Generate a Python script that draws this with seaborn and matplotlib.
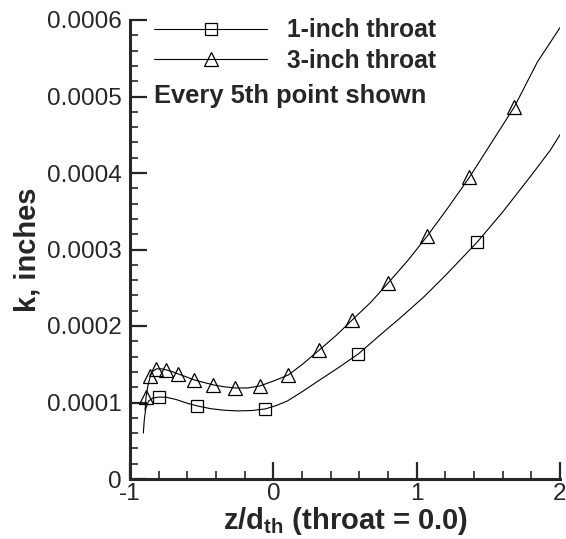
import matplotlib
matplotlib.use("Agg")
import matplotlib.pyplot as plt
import seaborn as sns
import numpy as np
from matplotlib.lines import Line2D
from matplotlib.ticker import MultipleLocator

# ---- data (k in units of 1e-4 inches) ----
x_1in = [-0.907, -0.90, -0.89, -0.87, -0.84, -0.80, -0.75, -0.68, -0.60, -0.53,
         -0.44, -0.35, -0.25, -0.15, -0.056, 0.02, 0.098, 0.20, 0.32, 0.45,
         0.593, 0.75, 0.90, 1.05, 1.20, 1.424, 1.60, 1.80, 1.933, 2.0]
k_1in = [0.60, 0.78, 0.92, 1.02, 1.06, 1.07, 1.07, 1.04, 0.99, 0.955,
         0.92, 0.90, 0.89, 0.895, 0.916, 0.96, 1.02, 1.14, 1.29, 1.45,
         1.635, 1.89, 2.13, 2.38, 2.66, 3.10, 3.49, 3.97, 4.30, 4.50]
x_1in_mk = [-0.80, -0.53, -0.056, 0.593, 1.424]
k_1in_mk = [1.07, 0.955, 0.916, 1.635, 3.10]

x_3in = [-0.895, -0.888, -0.875, -0.858, -0.84, -0.816, -0.78, -0.747, -0.70, -0.663,
         -0.60, -0.551, -0.48, -0.419, -0.34, -0.265, -0.18, -0.094, 0.0, 0.105,
         0.21, 0.321, 0.44, 0.551, 0.68, 0.802, 0.94, 1.075, 1.22, 1.368,
         1.52, 1.682, 1.842, 2.0]
k_3in = [0.90, 1.07, 1.22, 1.347, 1.41, 1.439, 1.44, 1.426, 1.40, 1.373,
         1.33, 1.295, 1.26, 1.230, 1.205, 1.190, 1.19, 1.216, 1.28, 1.360,
         1.51, 1.687, 1.88, 2.080, 2.31, 2.564, 2.86, 3.179, 3.55, 3.944,
         4.39, 4.866, 5.45, 5.90]
x_3in_mk = [-0.888, -0.858, -0.816, -0.747, -0.663, -0.551, -0.419, -0.265, -0.094,
            0.105, 0.321, 0.551, 0.802, 1.075, 1.368, 1.682]
k_3in_mk = [1.07, 1.347, 1.439, 1.426, 1.373, 1.295, 1.230, 1.190, 1.216,
            1.360, 1.687, 2.080, 2.564, 3.179, 3.944, 4.866]

series_labels = ["1-inch throat", "3-inch throat"]
xticks = [-1, 0, 1, 2]
xtick_labels = ["-1", "0", "1", "2"]
yticks = [0, 0.0001, 0.0002, 0.0003, 0.0004, 0.0005, 0.0006]
ytick_labels = ["0", "0.0001", "0.0002", "0.0003", "0.0004", "0.0005", "0.0006"]
note = "Every 5th point shown"
SCALE = 1e-4

sns.set_style("ticks")
plt.rcParams["font.family"] = ["Liberation Sans", "DejaVu Sans"]
plt.rcParams["mathtext.fontset"] = "custom"
plt.rcParams["mathtext.rm"] = "Liberation Sans:bold"
plt.rcParams["mathtext.bf"] = "Liberation Sans:bold"
plt.rcParams["mathtext.it"] = "Liberation Sans:bold"

fig = plt.figure(figsize=(5.66, 5.39), dpi=100)
ax = fig.add_axes([130/566, 1-479/539, 430/566, 459/539])

lw = 0.8
sns.lineplot(x=x_1in, y=np.array(k_1in)*SCALE, sort=False, estimator=None,
             color="black", lw=lw, ax=ax)
sns.lineplot(x=x_3in, y=np.array(k_3in)*SCALE, sort=False, estimator=None,
             color="black", lw=lw, ax=ax)
sns.lineplot(x=x_1in_mk, y=np.array(k_1in_mk)*SCALE, sort=False, estimator=None,
             linestyle="", marker="s", markersize=9, markerfacecolor="none",
             markeredgecolor="black", markeredgewidth=0.9, ax=ax)
sns.lineplot(x=x_3in_mk, y=np.array(k_3in_mk)*SCALE, sort=False, estimator=None,
             linestyle="", marker="^", markersize=10.5, markerfacecolor="none",
             markeredgecolor="black", markeredgewidth=0.9, ax=ax)

ax.set_xlim(-1, 2)
ax.set_ylim(0, 0.0006)
ax.set_xticks(xticks)
ax.set_xticklabels(xtick_labels)
ax.set_yticks(yticks)
ax.set_yticklabels(ytick_labels)
ax.xaxis.set_minor_locator(MultipleLocator(0.2))
ax.yaxis.set_minor_locator(MultipleLocator(0.00002))
ax.tick_params(which="major", direction="in", length=12, width=1.6, labelsize=17.5,
               pad=3)
ax.tick_params(axis="y", which="major", pad=6)
ax.tick_params(which="minor", direction="in", length=6, width=1.2)
for s in ["top", "right"]:
    ax.spines[s].set_visible(False)
for s in ["left", "bottom"]:
    ax.spines[s].set_linewidth(2.2)

ax.set_xlabel(r"z/d$_{\rm th}$ (throat = 0.0)", fontsize=21, fontweight="bold", labelpad=0)
ax.set_ylabel("k, inches", fontsize=21, fontweight="bold", labelpad=4)

handles = [
    Line2D([], [], color="black", lw=lw, marker="s", markersize=9,
           markerfacecolor="none", markeredgecolor="black", markeredgewidth=0.9),
    Line2D([], [], color="black", lw=lw, marker="^", markersize=10.5,
           markerfacecolor="none", markeredgecolor="black", markeredgewidth=0.9),
]
ax.legend(handles, series_labels, loc="upper left", bbox_to_anchor=(0.056, 1.004),
          frameon=False, prop={"weight": "bold", "size": 17.7}, handlelength=4.6,
          handletextpad=0.8, labelspacing=0.28, borderpad=0, borderaxespad=0,
          numpoints=1)
ax.text(0.056, 0.834, note, transform=ax.transAxes, fontsize=18.4,
        fontweight="bold", va="center", ha="left")

fig.savefig("out.png", dpi=100)
